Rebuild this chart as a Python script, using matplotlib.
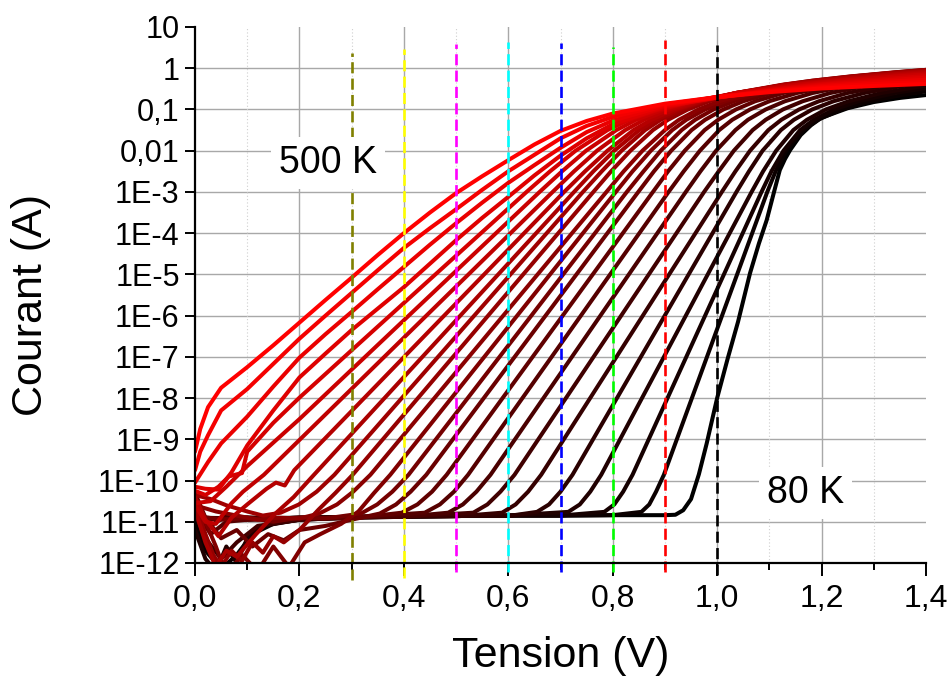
import matplotlib
matplotlib.use("Agg")
import matplotlib.pyplot as plt
import numpy as np
from matplotlib.ticker import FixedLocator, FixedFormatter, NullLocator

plt.rcParams['font.family'] = ['Liberation Sans', 'DejaVu Sans']

# ---------------- data (V in volts, log10 of current in A) ----------------
# curves ordered from 500 K (bright red) to 80 K (black)
V_01 = [0, 0.01, 0.025, 0.05, 0.1, 0.15, 0.2, 0.25, 0.3, 0.35, 0.4, 0.45, 0.5, 0.55, 0.6, 0.65, 0.7, 0.75, 0.8, 0.9, 1.0, 1.1, 1.2, 1.3, 1.4]
L_01 = [-9.3, -8.75, -8.22, -7.75, -7.25, -6.72, -6.17, -5.62, -5.08, -4.53, -4.0, -3.5, -3.03, -2.62, -2.23, -1.85, -1.52, -1.28, -1.1, -0.86, -0.7, -0.58, -0.49, -0.43, -0.38]
V_02 = [0, 0.01, 0.025, 0.05, 0.1, 0.15, 0.2, 0.25, 0.3, 0.35, 0.4, 0.45, 0.5, 0.55, 0.6, 0.65, 0.7, 0.75, 0.8, 0.9, 1.0, 1.1, 1.2, 1.3, 1.4]
L_02 = [-9.75, -9.3, -8.9, -8.3, -7.78, -7.17, -6.56, -6.0, -5.45, -4.9, -4.36, -3.88, -3.42, -2.95, -2.5, -2.1, -1.7, -1.4, -1.18, -0.88, -0.7, -0.56, -0.46, -0.38, -0.33]
V_03 = [0, 0.01, 0.025, 0.05, 0.1, 0.15, 0.2, 0.25, 0.3, 0.35, 0.4, 0.45, 0.5, 0.55, 0.6, 0.65, 0.7, 0.75, 0.8, 0.9, 1.0, 1.1, 1.2, 1.3, 1.4]
L_03 = [-10.05, -9.85, -9.55, -9.1, -8.45, -7.72, -7.02, -6.45, -5.91, -5.36, -4.82, -4.28, -3.76, -3.26, -2.78, -2.35, -1.93, -1.55, -1.27, -0.91, -0.71, -0.55, -0.43, -0.34, -0.28]
V_04 = [0, 0.02, 0.045, 0.07, 0.1, 0.15, 0.2, 0.25, 0.3, 0.35, 0.4, 0.45, 0.5, 0.55, 0.6, 0.65, 0.7, 0.75, 0.8, 0.9, 1.0, 1.1, 1.2, 1.3, 1.4]
L_04 = [-10.15, -10.2, -10.22, -9.8, -9.15, -8.3, -7.5, -6.92, -6.35, -5.83, -5.31, -4.74, -4.17, -3.63, -3.12, -2.6, -2.12, -1.7, -1.36, -0.93, -0.71, -0.53, -0.40, -0.31, -0.23]
V_05 = [0, 0.02, 0.045, 0.065, 0.08, 0.09, 0.1, 0.15, 0.2, 0.3, 0.635, 0.68, 0.729, 0.79, 0.831, 0.889, 0.953, 1.045, 1.182, 1.274, 1.4]
L_05 = [-10.25, -10.35, -10.15, -9.9, -9.85, -9.82, -9.3, -8.6, -7.99, -6.84, -3.0, -2.5, -2.0, -1.5, -1.25, -1.0, -0.8, -0.6, -0.4, -0.3, -0.19]
V_06 = [0, 0.03, 0.06, 0.1, 0.2, 0.3, 0.66, 0.703, 0.749, 0.807, 0.845, 0.897, 0.955, 1.038, 1.159, 1.24, 1.341, 1.4]
L_06 = [-10.55, -10.5, -10.15, -9.65, -8.51, -7.31, -3.0, -2.5, -2.0, -1.5, -1.25, -1.0, -0.8, -0.6, -0.4, -0.3, -0.2, -0.15]
V_07 = [0, 0.02, 0.04, 0.07, 0.092, 0.132, 0.685, 0.726, 0.77, 0.824, 0.86, 0.908, 0.961, 1.037, 1.147, 1.221, 1.312, 1.4]
L_07 = [-10.6, -11.0, -11.05, -10.55, -10.27, -9.86, -3.0, -2.5, -2.0, -1.5, -1.25, -1.0, -0.8, -0.6, -0.4, -0.3, -0.2, -0.12]
V_08 = [0, 0.02, 0.045, 0.07, 0.1, 0.137, 0.155, 0.172, 0.19, 0.707, 0.747, 0.79, 0.84, 0.874, 0.918, 0.967, 1.036, 1.137, 1.204, 1.286, 1.4]
L_08 = [-10.4, -10.95, -11.35, -10.9, -10.58, -10.2, -10.05, -10.12, -9.75, -3.0, -2.5, -2.0, -1.5, -1.25, -1.0, -0.8, -0.6, -0.4, -0.3, -0.2, -0.09]
V_09 = [0, 0.02, 0.04, 0.06, 0.08, 0.1, 0.117, 0.154, 0.189, 0.225, 0.726, 0.763, 0.803, 0.851, 0.883, 0.925, 0.971, 1.036, 1.13, 1.193, 1.271, 1.367, 1.4]
L_09 = [-10.7, -11.5, -12.1, -11.7, -11.85, -11.55, -11.3, -10.8, -10.4, -9.9, -3.0, -2.5, -2.0, -1.5, -1.25, -1.0, -0.8, -0.6, -0.4, -0.3, -0.2, -0.1, -0.07]
V_10 = [0, 0.03, 0.06, 0.1, 0.13, 0.164, 0.199, 0.233, 0.267, 0.743, 0.779, 0.817, 0.862, 0.892, 0.932, 0.975, 1.036, 1.125, 1.184, 1.257, 1.347, 1.4]
L_10 = [-10.35, -10.45, -10.6, -10.75, -10.85, -10.78, -10.58, -10.27, -9.86, -3.0, -2.5, -2.0, -1.5, -1.25, -1.0, -0.8, -0.6, -0.4, -0.3, -0.2, -0.1, -0.05]
V_11 = [0, 0.02, 0.035, 0.05, 0.07, 0.09, 0.11, 0.13, 0.15, 0.17, 0.2, 0.237, 0.269, 0.302, 0.763, 0.797, 0.834, 0.877, 0.906, 0.944, 0.985, 1.043, 1.128, 1.184, 1.254, 1.339, 1.4]
L_11 = [-10.55, -11.3, -11.8, -12.1, -11.7, -11.95, -11.5, -11.75, -11.35, -11.5, -11.2, -10.7, -10.3, -9.86, -3.0, -2.5, -2.0, -1.5, -1.25, -1.0, -0.8, -0.6, -0.4, -0.3, -0.2, -0.1, -0.04]
V_12 = [0, 0.04, 0.08, 0.12, 0.16, 0.2, 0.238, 0.272, 0.303, 0.336, 0.788, 0.821, 0.857, 0.9, 0.927, 0.964, 1.004, 1.059, 1.14, 1.194, 1.26, 1.342, 1.4]
L_12 = [-10.6, -10.75, -10.85, -10.95, -10.9, -10.92, -10.8, -10.58, -10.27, -9.86, -3.0, -2.5, -2.0, -1.5, -1.25, -1.0, -0.8, -0.6, -0.4, -0.3, -0.2, -0.1, -0.04]
V_13 = [0, 0.02, 0.04, 0.06, 0.09, 0.12, 0.15, 0.18, 0.21, 0.24, 0.28, 0.313, 0.343, 0.374, 0.806, 0.838, 0.873, 0.914, 0.941, 0.977, 1.016, 1.071, 1.151, 1.205, 1.271, 1.352, 1.4]
L_13 = [-10.45, -11.0, -11.6, -12.3, -11.8, -12.2, -11.6, -12.1, -11.5, -11.3, -11.05, -10.75, -10.3, -9.86, -3.0, -2.5, -2.0, -1.5, -1.25, -1.0, -0.8, -0.6, -0.4, -0.3, -0.2, -0.1, -0.05]
V_14 = [0, 0.05, 0.1, 0.15, 0.2, 0.25, 0.318, 0.349, 0.378, 0.409, 0.827, 0.859, 0.892, 0.932, 0.958, 0.993, 1.032, 1.086, 1.165, 1.218, 1.282, 1.362, 1.4]
L_14 = [-10.85, -10.95, -10.9, -11.0, -10.9, -10.92, -10.8, -10.58, -10.27, -9.86, -3.0, -2.5, -2.0, -1.5, -1.25, -1.0, -0.8, -0.6, -0.4, -0.3, -0.2, -0.1, -0.06]
V_15 = [0, 0.02, 0.05, 0.08, 0.11, 0.14, 0.17, 0.2, 0.25, 0.3, 0.354, 0.385, 0.413, 0.443, 0.849, 0.879, 0.912, 0.951, 0.977, 1.012, 1.05, 1.104, 1.183, 1.236, 1.301, 1.4]
L_15 = [-10.3, -10.9, -11.4, -11.2, -11.6, -11.3, -11.45, -11.2, -11.1, -10.95, -10.8, -10.58, -10.27, -9.86, -3.0, -2.5, -2.0, -1.5, -1.25, -1.0, -0.8, -0.6, -0.4, -0.3, -0.2, -0.08]
V_16 = [0, 0.1, 0.2, 0.3, 0.396, 0.426, 0.454, 0.482, 0.877, 0.906, 0.938, 0.976, 1.002, 1.036, 1.073, 1.127, 1.205, 1.257, 1.321, 1.4]
L_16 = [-10.9, -10.95, -10.9, -10.92, -10.78, -10.58, -10.27, -9.86, -3.0, -2.5, -2.0, -1.5, -1.25, -1.0, -0.8, -0.6, -0.4, -0.3, -0.2, -0.1]
V_17 = [0, 0.03, 0.06, 0.1, 0.2, 0.3, 0.44, 0.469, 0.496, 0.523, 0.907, 0.936, 0.967, 1.004, 1.029, 1.063, 1.1, 1.153, 1.231, 1.283, 1.347, 1.4]
L_17 = [-10.7, -11.3, -11.0, -10.95, -10.9, -10.9, -10.78, -10.58, -10.27, -9.86, -3.0, -2.5, -2.0, -1.5, -1.25, -1.0, -0.8, -0.6, -0.4, -0.3, -0.2, -0.13]
V_18 = [0, 0.1, 0.2, 0.3, 0.4, 0.485, 0.513, 0.539, 0.566, 0.94, 0.968, 0.998, 1.035, 1.059, 1.093, 1.13, 1.183, 1.261, 1.313, 1.4]
L_18 = [-10.92, -10.9, -10.93, -10.88, -10.88, -10.78, -10.58, -10.27, -9.86, -3.0, -2.5, -2.0, -1.5, -1.25, -1.0, -0.8, -0.6, -0.4, -0.3, -0.17]
V_19 = [0, 0.02, 0.05, 0.08, 0.12, 0.2, 0.3, 0.4, 0.533, 0.56, 0.585, 0.612, 0.975, 1.003, 1.032, 1.068, 1.093, 1.126, 1.164, 1.217, 1.296, 1.4]
L_19 = [-10.8, -11.4, -11.9, -11.5, -11.1, -10.95, -10.9, -10.88, -10.78, -10.58, -10.27, -9.86, -3.0, -2.5, -2.0, -1.5, -1.25, -1.0, -0.8, -0.6, -0.4, -0.22]
V_20 = [0, 0.1, 0.2, 0.3, 0.4, 0.5, 0.588, 0.614, 0.638, 0.663, 1.009, 1.035, 1.063, 1.098, 1.123, 1.157, 1.195, 1.25, 1.332, 1.4]
L_20 = [-10.95, -10.9, -10.92, -10.88, -10.87, -10.87, -10.78, -10.58, -10.27, -9.86, -3.0, -2.5, -2.0, -1.5, -1.25, -1.0, -0.8, -0.6, -0.4, -0.28]
V_21 = [0, 0.03, 0.06, 0.1, 0.2, 0.3, 0.4, 0.5, 0.6, 0.655, 0.678, 0.7, 0.723, 1.037, 1.061, 1.087, 1.122, 1.147, 1.182, 1.223, 1.282, 1.346, 1.4]
L_21 = [-10.7, -11.1, -10.85, -10.9, -10.95, -10.88, -10.87, -10.86, -10.86, -10.76, -10.58, -10.27, -9.86, -3.0, -2.5, -2.0, -1.5, -1.25, -1.0, -0.8, -0.6, -0.45, -0.35]
V_22 = [0, 0.02, 0.04, 0.06, 0.08, 0.1, 0.13, 0.2, 0.3, 0.4, 0.5, 0.6, 0.715, 0.737, 0.757, 0.778, 1.066, 1.088, 1.113, 1.146, 1.172, 1.208, 1.252, 1.315, 1.4]
L_22 = [-11.2, -11.9, -12.2, -11.6, -12.0, -11.4, -11.1, -10.95, -10.9, -10.87, -10.86, -10.85, -10.76, -10.58, -10.27, -9.86, -3.0, -2.5, -2.0, -1.5, -1.25, -1.0, -0.8, -0.6, -0.42]
V_23 = [0, 0.1, 0.2, 0.3, 0.4, 0.5, 0.6, 0.7, 0.784, 0.803, 0.82, 0.838, 1.085, 1.104, 1.127, 1.159, 1.185, 1.224, 1.271, 1.341, 1.4]
L_23 = [-10.93, -10.95, -10.9, -10.88, -10.87, -10.86, -10.85, -10.85, -10.76, -10.58, -10.27, -9.86, -3.0, -2.5, -2.0, -1.5, -1.25, -1.0, -0.8, -0.6, -0.48]
V_24 = [0, 0.02, 0.05, 0.08, 0.11, 0.15, 0.2, 0.3, 0.4, 0.5, 0.6, 0.7, 0.8, 0.855, 0.87, 0.883, 0.898, 1.096, 1.112, 1.132, 1.165, 1.193, 1.238, 1.293, 1.354, 1.4]
L_24 = [-11.0, -11.7, -12.15, -11.8, -11.3, -11.05, -10.95, -10.9, -10.88, -10.86, -10.85, -10.85, -10.84, -10.76, -10.58, -10.27, -9.86, -3.0, -2.5, -2.0, -1.5, -1.25, -1.0, -0.8, -0.65, -0.56]
V_25 = [0, 0.1, 0.2, 0.3, 0.4, 0.5, 0.6, 0.7, 0.8, 0.9, 0.92, 0.935, 0.95, 0.965, 0.98, 1.0, 1.02, 1.04, 1.063, 1.08, 1.095, 1.11, 1.12, 1.13, 1.14, 1.16, 1.18, 1.2, 1.25, 1.3, 1.35, 1.4]
L_25 = [-10.9, -10.92, -10.9, -10.88, -10.87, -10.86, -10.85, -10.85, -10.84, -10.84, -10.83, -10.72, -10.45, -9.85, -9.1, -8.0, -7.05, -6.15, -4.97, -4.25, -3.68, -2.95, -2.47, -2.2, -1.98, -1.62, -1.38, -1.2, -0.97, -0.82, -0.72, -0.65]

CURVES = [(V_01, L_01), (V_02, L_02), (V_03, L_03), (V_04, L_04), (V_05, L_05),
          (V_06, L_06), (V_07, L_07), (V_08, L_08), (V_09, L_09), (V_10, L_10),
          (V_11, L_11), (V_12, L_12), (V_13, L_13), (V_14, L_14), (V_15, L_15),
          (V_16, L_16), (V_17, L_17), (V_18, L_18), (V_19, L_19), (V_20, L_20),
          (V_21, L_21), (V_22, L_22), (V_23, L_23), (V_24, L_24), (V_25, L_25)]

# vertical dashed guide lines
guide_x = [0.3, 0.4, 0.5, 0.6, 0.7, 0.8, 0.9, 1.0]
guide_colors = ['#808000', '#ffff00', '#ff00ff', '#00ffff', '#0000ff', '#00ff00', '#ff0000', '#000000']
guide_top = [2.3, 2.9, 3.9, 4.3, 4.1, 3.3, 4.8, 3.7]
guide_bottom = [3.9e-13, 4.4e-13, 6.0e-13, 6.0e-13, 6.0e-13, 6.0e-13, 6.0e-13, 5.1e-13]

x_major_ticks = [0.0, 0.2, 0.4, 0.6, 0.8, 1.0, 1.2, 1.4]
x_minor_ticks = [0.1, 0.3, 0.5, 0.7, 0.9, 1.1, 1.3]
x_ticks_labels = ['0,0', '0,2', '0,4', '0,6', '0,8', '1,0', '1,2', '1,4']
y_exponents = list(range(-12, 2))
y_ticks_labels = ['1E-12', '1E-11', '1E-10', '1E-9', '1E-8', '1E-7', '1E-6', '1E-5',
                  '1E-4', '1E-3', '0,01', '0,1', '1', '10']

# ---------------- figure ----------------
W, H = 951, 681
fig = plt.figure(figsize=(W / 100, H / 100), dpi=100)
ax = fig.add_axes([195 / W, 1 - 563 / H, (926 - 195) / W, (563 - 27) / H])
ax.set_yscale('log')
ax.set_xlim(0, 1.4)
ax.set_ylim(1e-12, 10)

# grid (without lines on the frame limits)
for e in y_exponents[1:-1]:
    ax.axhline(10.0 ** e, color='#a8a8a8', lw=1.0, zorder=0)
for xv in x_major_ticks[1:-1]:
    ax.axvline(xv, color='#a8a8a8', lw=1.0, zorder=0)
for xv in x_minor_ticks:
    ax.axvline(xv, color='#cfcfcf', lw=0.8, ls=(0, (1, 2)), zorder=0)

n = len(CURVES)
for i in range(n - 1, -1, -1):
    v, l = CURVES[i]
    r = 1.0 - i / (n - 1)
    ax.plot(v, 10.0 ** np.array(l), color=(r, 0, 0), lw=2.9,
            solid_joinstyle='round', solid_capstyle='round', zorder=2)

for xv, c, t, b in zip(guide_x, guide_colors, guide_top, guide_bottom):
    ln, = ax.plot([xv, xv], [b, t], color=c, lw=1.9, zorder=3, clip_on=False)
    ln.set_dashes((4.2, 2.0))

ax.text(0.255, 10 ** -2.3, '500 K', ha='center', va='center', fontsize=27,
        bbox=dict(facecolor='white', edgecolor='none', pad=6), zorder=5)
ax.text(1.169, 10 ** -10.3, '80 K', ha='center', va='center', fontsize=27,
        bbox=dict(facecolor='white', edgecolor='none', pad=6), zorder=5)

# axes styling
for s in ['top', 'right']:
    ax.spines[s].set_visible(False)
for s in ['left', 'bottom']:
    ax.spines[s].set_linewidth(1.6)
    ax.spines[s].set_zorder(4)

ax.xaxis.set_major_locator(FixedLocator(x_major_ticks))
ax.xaxis.set_minor_locator(FixedLocator(x_minor_ticks))
ax.xaxis.set_major_formatter(FixedFormatter(x_ticks_labels))
ax.yaxis.set_major_locator(FixedLocator([10.0 ** e for e in y_exponents]))
ax.yaxis.set_major_formatter(FixedFormatter(y_ticks_labels))
ax.yaxis.set_minor_locator(NullLocator())

ax.tick_params(axis='x', which='major', direction='out', length=9, width=1.4, labelsize=23, pad=6)
ax.tick_params(axis='x', which='minor', direction='out', length=5, width=1.4)
ax.tick_params(axis='y', which='major', direction='out', length=7, width=1.4, labelsize=22, pad=4)

ax.set_xlabel('Tension (V)', fontsize=31)
ax.xaxis.label.set_va('center')
ax.xaxis.set_label_coords(0.5, (563 - 656) / 536)
ax.set_ylabel('Courant (A)', fontsize=31)
ax.yaxis.label.set_va('center')
ax.yaxis.set_label_coords((31 - 195) / 731, (563 - 305) / 536)

fig.savefig('out.png', dpi=100)
